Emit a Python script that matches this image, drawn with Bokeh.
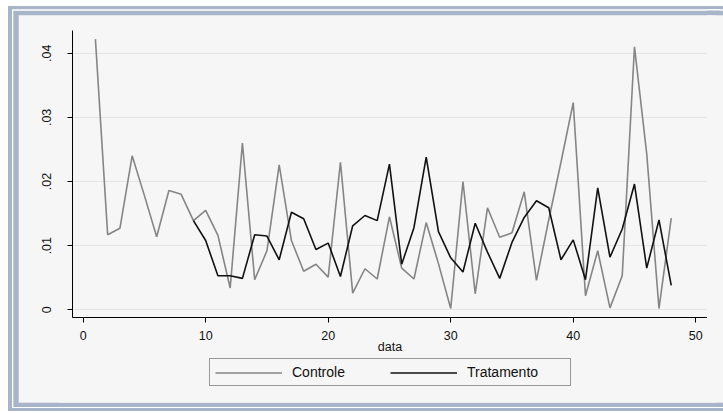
from bokeh.plotting import figure
from bokeh.layouts import column
from bokeh.models import (Legend, LegendItem, FixedTicker,
                          CustomJSTickFormatter, Range1d, ColumnDataSource)
from bokeh.embed import file_html
from bokeh.resources import INLINE

# ---- data ----
controle_x = list(range(1, 49))
controle_y = [0.0422, 0.0117, 0.0127, 0.0240, 0.0178, 0.0114, 0.0186, 0.0180,
              0.0139, 0.0155, 0.0116, 0.0034, 0.0260, 0.0047, 0.0092, 0.0226,
              0.0108, 0.0060, 0.0071, 0.0051, 0.0230, 0.0026, 0.0064, 0.0048,
              0.0145, 0.0065, 0.0048, 0.0136, 0.0072, 0.0002, 0.0200, 0.0025,
              0.0159, 0.0113, 0.0120, 0.0184, 0.0046, 0.0140, 0.0230, 0.0323,
              0.0022, 0.0092, 0.0003, 0.0053, 0.0410, 0.0243, 0.0002, 0.0143]
trat_x = list(range(9, 49))
trat_y = [0.0139, 0.0108, 0.0053, 0.0053, 0.0049, 0.0117, 0.0115, 0.0078,
          0.0152, 0.0142, 0.0094, 0.0104, 0.0052, 0.0131, 0.0147, 0.0139,
          0.0227, 0.0071, 0.0128, 0.0238, 0.0122, 0.0081, 0.0059, 0.0135,
          0.0090, 0.0049, 0.0105, 0.0144, 0.0170, 0.0159, 0.0078, 0.0109,
          0.0047, 0.0190, 0.0082, 0.0126, 0.0196, 0.0065, 0.0140, 0.0038]
x_ticks = [0, 10, 20, 30, 40, 50]
y_ticks = [0, 0.01, 0.02, 0.03, 0.04]
series_labels = ["Controle", "Tratamento"]
x_label = "data"

BG = "#f6f6f6"
BAND = "#a8b5c8"
WHITE = "#ffffff"
FONT = "Liberation Sans"
C_COLOR = "#858585"
T_COLOR = "#111111"

W = 707
H1, H2 = 357, 40
H = H1 + H2

src_c = ColumnDataSource(dict(x=controle_x, y=controle_y))
src_t = ColumnDataSource(dict(x=trat_x, y=trat_y))

# ---------------- main plot ----------------
p = figure(width=W, height=H1, output_backend="svg", toolbar_location=None,
           x_range=Range1d(-0.87, 50.96), y_range=Range1d(-0.0012, 0.04354),
           min_border_left=72, min_border_right=0, min_border_top=30,
           min_border_bottom=40)
p.background_fill_color = BG
p.border_fill_alpha = 0
p.outline_line_color = None
p.xgrid.visible = False
p.ygrid.grid_line_color = "#e4e4e4"
p.ygrid.grid_line_width = 1

p.line("x", "y", source=src_c, line_color=C_COLOR, line_width=1.6)
p.line("x", "y", source=src_t, line_color=T_COLOR, line_width=1.6)

p.xaxis.ticker = FixedTicker(ticks=x_ticks)
p.yaxis.ticker = FixedTicker(ticks=y_ticks)
p.yaxis.formatter = CustomJSTickFormatter(
    code="return tick == 0 ? '0' : tick.toFixed(2).replace(/^0/, '');")
for ax in (p.xaxis[0], p.yaxis[0]):
    ax.axis_line_color = "#000000"
    ax.axis_line_width = 1
    ax.major_tick_line_color = "#000000"
    ax.major_tick_out = 5
    ax.major_tick_in = 0
    ax.minor_tick_line_color = None
    ax.major_label_text_font = FONT
    ax.major_label_text_font_size = "12.5px"
    ax.major_label_text_color = "#111111"
p.yaxis.major_label_orientation = "vertical"
p.yaxis.major_label_standoff = 16
p.xaxis.major_label_standoff = 8
p.xaxis.axis_label = x_label
p.xaxis.axis_label_text_font = FONT
p.xaxis.axis_label_text_font_size = "12.5px"
p.xaxis.axis_label_text_font_style = "normal"
p.xaxis.axis_label_text_color = "#111111"
p.xaxis.axis_label_standoff = -3

# ---------------- legend strip ----------------
# the series are drawn again here far outside the visible range, only so that
# the legend has renderers to take its line samples from
q = figure(width=W, height=H2, output_backend="svg", toolbar_location=None,
           x_range=Range1d(-1000, -999), y_range=Range1d(-1000, -999),
           x_axis_type=None, y_axis_type=None,
           min_border_left=0, min_border_right=0, min_border_top=0,
           min_border_bottom=0)
q.background_fill_alpha = 0
q.border_fill_alpha = 0
q.outline_line_color = None
q.grid.visible = False
lc = q.line("x", "y", source=src_c, line_color=C_COLOR, line_width=1.6)
lt = q.line("x", "y", source=src_t, line_color=T_COLOR, line_width=1.6)
legend = Legend(items=[LegendItem(label=series_labels[0], renderers=[lc]),
                       LegendItem(label=series_labels[1], renderers=[lt])],
                orientation="horizontal", location=(137, 11),
                glyph_width=67, glyph_height=13, label_height=13,
                label_width=98, label_standoff=10, spacing=0, padding=5,
                margin=0,
                label_text_font=FONT, label_text_font_size="14px",
                label_text_color="#111111",
                border_line_color="#3a3a3a", border_line_width=1,
                background_fill_color=BG, background_fill_alpha=1)
q.add_layout(legend, "center")

# ---------------- double frame (CSS shadows) ----------------
# nested rectangles (left, top, bottom, colour); right edge runs off the page
rects = [(18.7, 15.3, 402.7, BG), (13.3, 10.7, 407.0, BAND),
         (12.0, 9.3, 408.0, WHITE), (8.0, 6.0, 411.0, BAND)]
outer = []
for left, top, bottom, col in rects:
    dy = (top + bottom - H) / 2.0
    s = dy - top
    for extra in (0, 40):
        outer.append("%.2fpx %.2fpx 0 %.2fpx %s" % (left + s + extra, dy, s, col))
inner = [
    "inset 0 6px 0 0 " + WHITE, "inset 8px 0 0 0 " + WHITE,
    "inset 0 9.3px 0 0 " + BAND, "inset 12px 0 0 0 " + BAND,
    "inset 0 10.7px 0 0 " + WHITE, "inset 13.3px 0 0 0 " + WHITE,
    "inset 0 15.3px 0 0 " + BAND, "inset 18.7px 0 0 0 " + BAND,
]
layout = column(p, q, spacing=0,
                styles={"background-color": BG,
                        "box-shadow": ", ".join(inner + outer)})

open("out.html", "w").write(file_html(layout, INLINE))
